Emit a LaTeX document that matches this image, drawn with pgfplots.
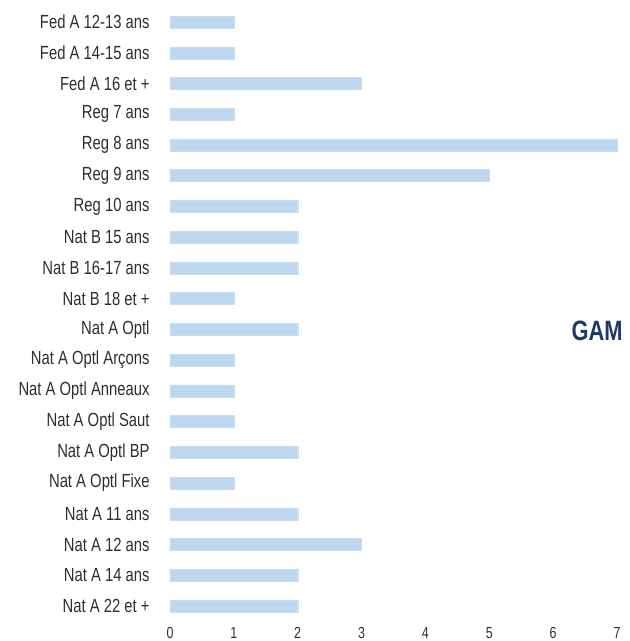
\documentclass[border=0pt]{standalone}
\usepackage{fontspec}
\setmainfont{Liberation Sans}[FakeStretch=0.78]
\usepackage{pgfplots}
\pgfplotsset{compat=1.18}
\definecolor{barblue}{HTML}{BDD7EE}
\definecolor{baredge}{HTML}{C8DDF0}
\definecolor{navy}{HTML}{1F3864}
\definecolor{labelgray}{HTML}{2E2E2E}

\pgfplotstableread[col sep=comma]{
idx,val
0,1
1,1
2,3
3,1
4,7
5,5
6,2
7,2
8,2
9,1
10,2
11,1
12,1
13,1
14,2
15,1
16,2
17,3
18,2
19,2
}\gamdata

\begin{document}
\begin{tikzpicture}
\begin{axis}[
    at={(170pt,13.5pt)}, anchor=south west,
    scale only axis,
    width=447pt, height=627pt,
    xbar, bar width=12pt,
    xmin=0, xmax=7,
    ymin=-0.7, ymax=19.7,
    y dir=reverse,
    axis line style={draw=none},
    tick style={draw=none},
    xtick={0,1,...,7},
    ytick={0,...,19},
    yticklabels={Fed A 12-13 ans,Fed A 14-15 ans,Fed A 16 et +,Reg 7 ans,Reg 8 ans,Reg 9 ans,Reg 10 ans,Nat B 15 ans,Nat B 16-17 ans,Nat B 18 et +,Nat A Optl,Nat A Optl Arçons,Nat A Optl Anneaux,Nat A Optl Saut,Nat A Optl BP,Nat A Optl Fixe,Nat A 11 ans,Nat A 12 ans,Nat A 14 ans,Nat A 22 et +},
    yticklabel style={font=\fontsize{19}{21}\selectfont, text=labelgray, inner sep=0pt, xshift=-16pt},
    xticklabel style={font=\fontsize{16}{18}\selectfont, text=labelgray, inner sep=0pt, anchor=north, yshift=0pt},
    /pgf/number format/assume math mode=true,
    clip=false,
]
\addplot[fill=barblue, draw=baredge] table[x=val, y=idx] {\gamdata};
\node[font=\bfseries\fontsize{28}{30}\selectfont, text=navy] at (axis cs:6.69,10.05) {GAM};
\end{axis}
\pgfresetboundingbox
\path[use as bounding box] (0,0) rectangle (630pt,641pt);
\end{tikzpicture}
\end{document}
